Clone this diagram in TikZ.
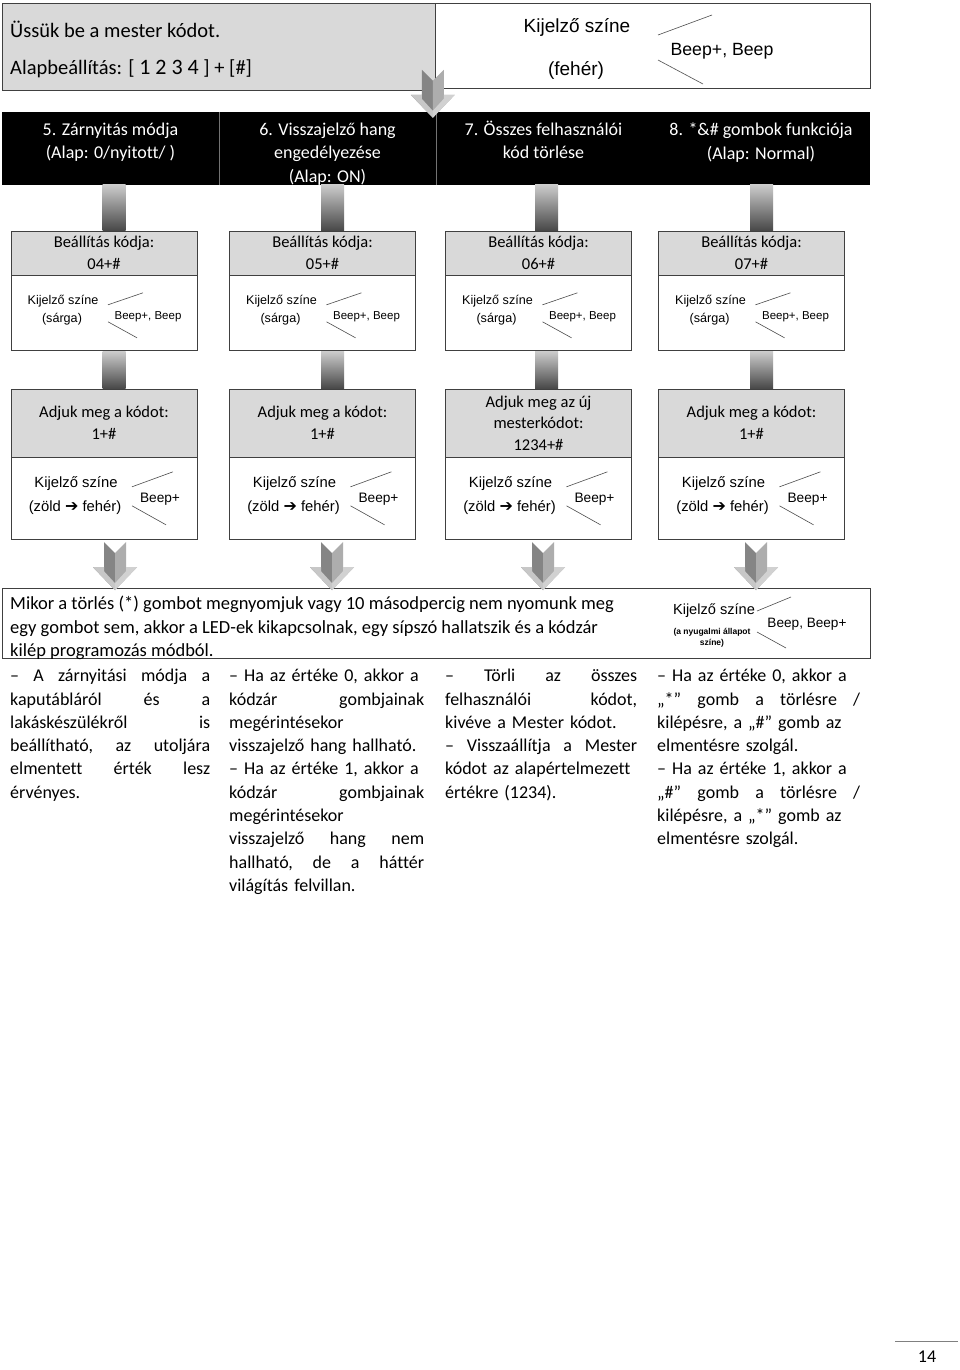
\documentclass[tikz,border=0pt]{standalone}
\usepackage{fontspec}
\setmainfont[Ligatures=NoCommon]{Carlito}
\newfontfamily\arial{Liberation Sans}
\newfontfamily\dejavu{DejaVu Sans}
\usetikzlibrary{positioning,calc}

\begin{document}
\begin{tikzpicture}[x=1pt, y=-1pt, node distance=0pt, font=\fontsize{18}{23.3}\selectfont]

	\useasboundingbox[fill=white] (0,0) rectangle (960,1370);

	\tikzstyle{frame} = [draw=black!75, line width=0.8pt]
	\tikzstyle{hdr} = [frame, fill=black!15, minimum width=186, align=center, inner sep=0pt, font=\fontsize{16.5}{22.5}\selectfont]
	\tikzstyle{lowbox} = [frame, fill=white, minimum width=186, inner sep=0pt]
	\tikzstyle{cellbox} = [fill=black, minimum width=217, minimum height=73, inner sep=0pt]
	\tikzstyle{cell} = [text=white, align=center, anchor=north, inner sep=0pt]
	\tikzstyle{kij} = [inner sep=0pt, font=\arial\fontsize{12.6}{14}\selectfont]
	\tikzstyle{tick} = [black!70, line width=0.6pt]
	\tikzstyle{bar} = [top color=black!20, bottom color=black!72]
	\tikzstyle{note} = [anchor=north west, inner sep=0pt, align=left]

	\tikzset{
		sarga/.pic={
			\node[kij] at (-41,-12.5) {Kijelző színe};
			\node[kij] at (-42,5.5) {(sárga)};
			\draw[tick] (4,-8.5) -- (39,-20.5);
			\draw[tick] (4,8.5) -- (33,24.5);
			\node[kij, font=\arial\fontsize{11.5}{13}\selectfont] at (44,3.5) {Beep+, Beep};
		},
		zold/.pic={
			\node[kij, font=\arial\fontsize{14.8}{17}\selectfont] at (-28,-15) {Kijelző színe};
			\node[kij, font=\arial\fontsize{14.8}{17}\selectfont] at (-29,9) {(zöld {\dejavu\bfseries\fontsize{16}{15}\selectfont ➔} fehér)};
			\draw[tick] (28,-12) -- (69,-27);
			\draw[tick] (28,7) -- (62,26);
			\node[kij, font=\arial\fontsize{13.7}{16}\selectfont] at (56,0) {Beep+};
		},
		bigarrow/.pic={
			\fill[black!48] (-11,0) -- (0,11) -- (0,48) -- (-22,25) -- (-11,25) -- cycle;
			\fill[black!32] (11,0) -- (0,11) -- (0,48) -- (22,25) -- (11,25) -- cycle;
			\fill[black!22] (-22,25) -- (-11,25) -- (-11,29) -- (0,41) -- (0,48) -- cycle;
			\fill[black!18] (22,25) -- (11,25) -- (11,29) -- (0,41) -- (0,48) -- cycle;
		}
	}

	% Master code
	\node[frame, fill=black!15, minimum width=433, minimum height=87, anchor=north west] (master) at (2,3) {};
	\node[frame, fill=white, minimum width=435, minimum height=85, anchor=north west] (mcolor) at (435,3) {};
	\node[anchor=base west, inner sep=0pt, font=\fontsize{20.5}{24}\selectfont] at (10,38) {Üssük be a mester kódot.};
	\node[anchor=base west, inner sep=0pt, font=\fontsize{20.5}{24}\selectfont] at (10,75) {Alapbeállítás: [ {\fontsize{22}{24}\selectfont 1 2 3 4} ] + [\#]};
	\node[kij, font=\arial\fontsize{19}{22}\selectfont] at (577,27) {Kijelző színe};
	\node[kij, font=\arial\fontsize{19}{22}\selectfont] at (576,70) {(fehér)};
	\draw[tick] (658,35) -- (712,15);
	\draw[tick] (658,60) -- (703,84);
	\node[kij, font=\arial\fontsize{17.7}{20}\selectfont] at (722,51) {Beep+, Beep};

	% Menu items
	\node[cellbox] (c5) at (110.5,148.5) {};
	\node[cellbox] (c6) at (327.5,148.5) {};
	\node[cellbox] (c7) at (543.5,148.5) {};
	\node[cellbox, minimum width=218] (c8) at (761,148.5) {};
	\draw[black!55, line width=0.8pt] (c5.north east) -- (c5.south east);
	\draw[black!55, line width=0.8pt] (c6.north east) -- (c6.south east);
	\node[cell] at ($(c5.north)+(0,11)$) {5. Zárnyitás módja\\(Alap: 0/nyitott/ )};
	\node[cell] at ($(c6.north)+(0,11)$) {6. Visszajelző hang\\engedélyezése\\(Alap: ON)};
	\node[cell] at ($(c7.north)+(0,9)$) {7. Összes felhasználói\\kód törlése};
	\node[cell] at ($(c8.north)+(0,11)$) {8. *\&\# gombok funkciója\\(Alap: Normal)};

	% Setting codes
	\node[hdr, minimum height=44] (s5) at (104,253) {Beállítás kódja:\\04+\#};
	\node[hdr, minimum height=44] (s6) at (322.5,253) {Beállítás kódja:\\05+\#};
	\node[hdr, minimum height=44] (s7) at (538.5,253) {Beállítás kódja:\\06+\#};
	\node[hdr, minimum height=44] (s8) at (751.5,253) {Beállítás kódja:\\07+\#};
	\node[lowbox, minimum height=75, below=of s5] (s5i) {};
	\node[lowbox, minimum height=75, below=of s6] (s6i) {};
	\node[lowbox, minimum height=75, below=of s7] (s7i) {};
	\node[lowbox, minimum height=75, below=of s8] (s8i) {};
	\pic at (s5i.center) {sarga};
	\pic at (s6i.center) {sarga};
	\pic at (s7i.center) {sarga};
	\pic at (s8i.center) {sarga};

	% Values
	\node[hdr, minimum height=68] (e5) at (104,423) {Adjuk meg a kódot:\\1+\#};
	\node[hdr, minimum height=68] (e6) at (322.5,423) {Adjuk meg a kódot:\\1+\#};
	\node[hdr, minimum height=68, font=\fontsize{16.5}{21.5}\selectfont] (e7) at (538.5,423) {Adjuk meg az új\\mesterkódot:\\1234+\#};
	\node[hdr, minimum height=68] (e8) at (751.5,423) {Adjuk meg a kódot:\\1+\#};
	\node[lowbox, minimum height=82, below=of e5] (e5i) {};
	\node[lowbox, minimum height=82, below=of e6] (e6i) {};
	\node[lowbox, minimum height=82, below=of e7] (e7i) {};
	\node[lowbox, minimum height=82, below=of e8] (e8i) {};
	\pic at (e5i.center) {zold};
	\pic at (e6i.center) {zold};
	\pic at (e7i.center) {zold};
	\pic at (e8i.center) {zold};

	% Bars
	\shade[bar] ($(s5.north)+(-1.5,-46)$) rectangle ($(s5.north)+(21.5,0)$);
	\shade[bar] ($(s6.north)+(-1.5,-46)$) rectangle ($(s6.north)+(21.5,0)$);
	\shade[bar] ($(s7.north)+(-3.5,-46)$) rectangle ($(s7.north)+(19.5,0)$);
	\shade[bar] ($(s8.north)+(-1.5,-46)$) rectangle ($(s8.north)+(21.5,0)$);
	\shade[bar] ($(s5i.south)+(-1.5,0)$) rectangle ($(e5.north)+(21.5,0)$);
	\shade[bar] ($(s6i.south)+(-1.5,0)$) rectangle ($(e6.north)+(21.5,0)$);
	\shade[bar] ($(s7i.south)+(-3.5,0)$) rectangle ($(e7.north)+(19.5,0)$);
	\shade[bar] ($(s8i.south)+(-1.5,0)$) rectangle ($(e8.north)+(21.5,0)$);

	% Exit
	\node[frame, fill=white, minimum width=868, minimum height=70, anchor=north west] (exit) at (2,588) {};
	\node[note, font=\fontsize{18.5}{23.3}\selectfont] at (10,596) {Mikor a törlés (*) gombot megnyomjuk vagy 10 másodpercig nem nyomunk meg\\egy gombot sem, akkor a LED-ek kikapcsolnak, egy sípszó hallatszik és a kódzár\\kilép programozás módból.};
	\node[kij, font=\arial\fontsize{14.6}{17}\selectfont] at (714,611) {Kijelző színe};
	\node[kij, align=center, font=\arial\bfseries\fontsize{8.5}{10.5}\selectfont] at (712,638) {(a nyugalmi állapot\\színe)};
	\draw[tick] (757,611) -- (791,597);
	\draw[tick] (757,632) -- (786,648);
	\node[kij, font=\arial\fontsize{13.6}{16}\selectfont] at (807,624) {Beep, Beep+};

	% Arrows
	\pic at ($(master.south east)+(-3,-21)$) {bigarrow};
	\pic at ($(e5i.south)+(11,2)$) {bigarrow};
	\pic at ($(e6i.south)+(9.5,2)$) {bigarrow};
	\pic at ($(e7i.south)+(4.5,2)$) {bigarrow};
	\pic at ($(e8i.south)+(4.5,2)$) {bigarrow};

	% Notes
	\node[note, text width=200] (n5) at (10,669) {–\hfill A\hfill zárnyitási\hfill módja\hfill a\\kaputábláról\hfill és\hfill a\\lakáskészülékről\hfill is\\beállítható,\hfill az\hfill utoljára\\elmentett\hfill érték\hfill lesz\\érvényes.};
	\node[note, text width=195] (n6) at (229,669) {– Ha az értéke 0, akkor a\\kódzár\hfill gombjainak\\megérintésekor\\visszajelző hang hallható.\\– Ha az értéke 1, akkor a\\kódzár\hfill gombjainak\\megérintésekor\\visszajelző\hfill hang\hfill nem\\hallható,\hfill de\hfill a\hfill háttér\\világítás felvillan.};
	\node[note, text width=192] (n7) at (445,669) {–\hfill Törli\hfill az\hfill összes\\felhasználói\hfill kódot,\\kivéve a Mester kódot.\\–\hfill Visszaállítja\hfill a\hfill Mester\\kódot az alapértelmezett\\értékre (1234).};
	\node[note, text width=203] (n8) at (657,669) {– Ha az értéke 0, akkor a\\„*”\hfill gomb\hfill a\hfill törlésre\hfill /\\kilépésre, a „\#” gomb az\\elmentésre szolgál.\\– Ha az értéke 1, akkor a\\„\#”\hfill gomb\hfill a\hfill törlésre\hfill /\\kilépésre, a „*” gomb az\\elmentésre szolgál.};

	% Page
	\node (page) at (927,1357) {14};
	\draw[black!50] (895,1341) -- (958,1341);

\end{tikzpicture}
\end{document}
